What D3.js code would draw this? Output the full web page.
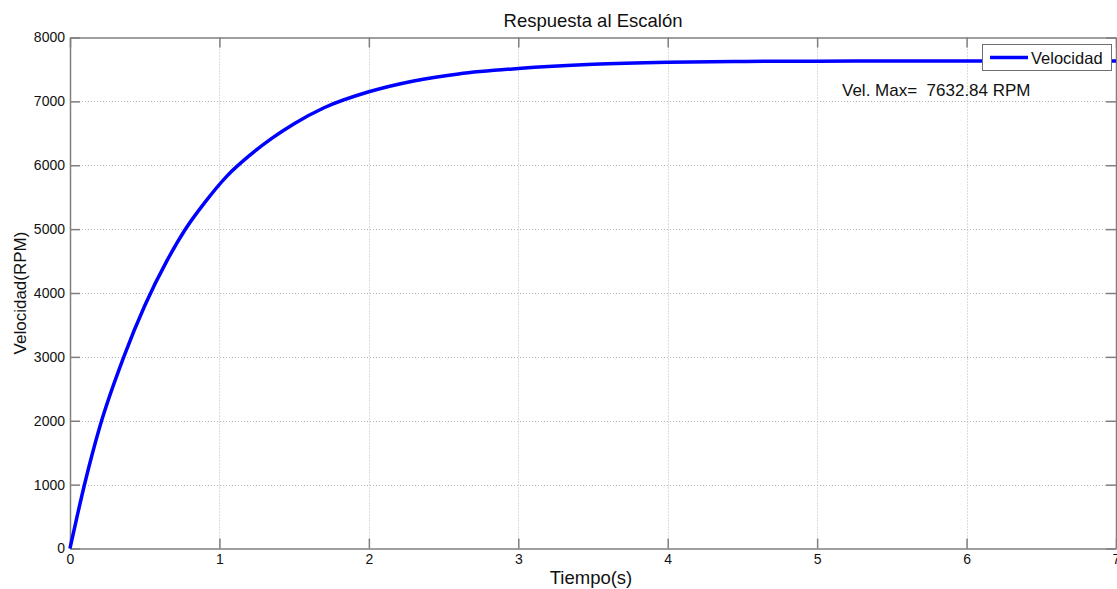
<!DOCTYPE html>
<html>
<head>
<meta charset="utf-8">
<script src="https://cdn.jsdelivr.net/npm/d3@7"></script>
<style>
  html, body { margin: 0; padding: 0; background: #fff; }
  svg { display: block; font-family: "Liberation Sans", Arial, sans-serif; }
</style>
</head>
<body>
<svg id="chart" width="1117" height="589"></svg>
<script>
// Step response samples: time (s) and speed (RPM)
const tiempo = [0, 0.1, 0.2, 0.36, 0.5, 0.65, 0.77, 0.9, 1.05, 1.2, 1.35, 1.5, 1.7, 2.0, 2.3, 2.6, 3.0, 3.5, 4.0, 4.5, 5.0, 5.5, 6.0, 7.0];
const velocidad = [0, 1030, 1910, 3000, 3800, 4510, 4990, 5410, 5830, 6150, 6420, 6650, 6900, 7150, 7320, 7430, 7515, 7580, 7612, 7625, 7630, 7632, 7633, 7633];
const xTicks = [0, 1, 2, 3, 4, 5, 6, 7];
const yTicks = [0, 1000, 2000, 3000, 4000, 5000, 6000, 7000, 8000];
const velMax = 7632.84;

const svg = d3.select("#chart");
const m = { left: 70, right: 1116, top: 37.5, bottom: 548.5 };

const x = d3.scaleLinear().domain([0, 7]).range([m.left, m.right]);
const y = d3.scaleLinear().domain([0, 8000]).range([m.bottom, m.top]);

const axisColor = "#7f7f7f";
const tickLen = 10;
const font = "'Liberation Sans', Arial, sans-serif";

// dotted grid
const grid = svg.append("g");
grid.selectAll(".gx").data(xTicks.slice(1, -1)).enter().append("line")
  .attr("x1", d => Math.round(x(d)) + 0.5).attr("x2", d => Math.round(x(d)) + 0.5)
  .attr("y1", m.top).attr("y2", m.bottom)
  .attr("stroke", "#b8b8b8").attr("stroke-width", 1).attr("stroke-dasharray", "1,2");
grid.selectAll(".gy").data(yTicks.slice(1, -1)).enter().append("line")
  .attr("y1", d => Math.round(y(d)) + 0.5).attr("y2", d => Math.round(y(d)) + 0.5)
  .attr("x1", m.left).attr("x2", m.right)
  .attr("stroke", "#b8b8b8").attr("stroke-width", 1).attr("stroke-dasharray", "1,2");

// axes with inward ticks on all four sides
const bottomAxis = d3.axisBottom(x).tickValues(xTicks).tickSizeInner(-tickLen).tickSizeOuter(0).tickPadding(6).tickFormat(d3.format("d"));
const topAxis = d3.axisTop(x).tickValues(xTicks).tickSizeInner(-tickLen).tickSizeOuter(0).tickFormat("");
const leftAxis = d3.axisLeft(y).tickValues(yTicks).tickSizeInner(-tickLen).tickSizeOuter(0).tickPadding(5).tickFormat(d3.format("d"));
const rightAxis = d3.axisRight(y).tickValues(yTicks).tickSizeInner(-tickLen).tickSizeOuter(0).tickFormat("");

function styleAxis(g) {
  g.attr("font-size", 14).attr("font-family", font);
  g.selectAll("path").attr("stroke", axisColor).attr("stroke-width", 1.5);
  g.selectAll("line").attr("stroke", axisColor).attr("stroke-width", 1.5);
  g.selectAll("text").attr("fill", "#111").attr("font-size", 14).style("font-size", "14px");
}

svg.append("g").attr("transform", `translate(0,${m.bottom})`).call(bottomAxis).call(styleAxis);
svg.append("g").attr("transform", `translate(0,${m.top})`).call(topAxis).call(styleAxis);
svg.append("g").attr("transform", `translate(${m.left},0)`).call(leftAxis).call(styleAxis);
svg.append("g").attr("transform", `translate(${m.right},0)`).call(rightAxis).call(styleAxis);

// response curve
const line = d3.line().x((d, i) => x(tiempo[i])).y(d => y(d)).curve(d3.curveMonotoneX);
svg.append("path").datum(velocidad)
  .attr("d", line).attr("fill", "none")
  .attr("stroke", "#0000ff").attr("stroke-width", 3.5).attr("stroke-linejoin", "round");

// title and axis labels
svg.append("text").attr("x", 593).attr("y", 27).attr("text-anchor", "middle")
  .style("font-size", "18.5px").attr("fill", "#111").text("Respuesta al Escalón");
svg.append("text").attr("x", 591).attr("y", 584).attr("text-anchor", "middle")
  .style("font-size", "18.5px").attr("fill", "#111").text("Tiempo(s)");
svg.append("text").attr("transform", `translate(26,${(m.top + m.bottom) / 2}) rotate(-90)`)
  .attr("text-anchor", "middle").style("font-size", "17px").attr("fill", "#111").text("Velocidad(RPM)");

// annotation of the final value
svg.append("text").attr("x", 842).attr("y", 96).style("font-size", "17px").attr("fill", "#111")
  .attr("xml:space", "preserve")
  .text("Vel. Max=  " + velMax.toFixed(2) + " RPM");

// legend
const lg = svg.append("g").attr("transform", "translate(982,44)");
lg.append("rect").attr("x", 0.5).attr("y", 0.5).attr("width", 129).attr("height", 26)
  .attr("fill", "#fff").attr("stroke", "#6f6f6f").attr("stroke-width", 1);
lg.append("line").attr("x1", 8).attr("x2", 46).attr("y1", 13.5).attr("y2", 13.5)
  .attr("stroke", "#0000ff").attr("stroke-width", 3.5);
lg.append("text").attr("x", 49).attr("y", 19.5).style("font-size", "16.5px").attr("fill", "#111").text("Velocidad");
</script>
</body>
</html>
